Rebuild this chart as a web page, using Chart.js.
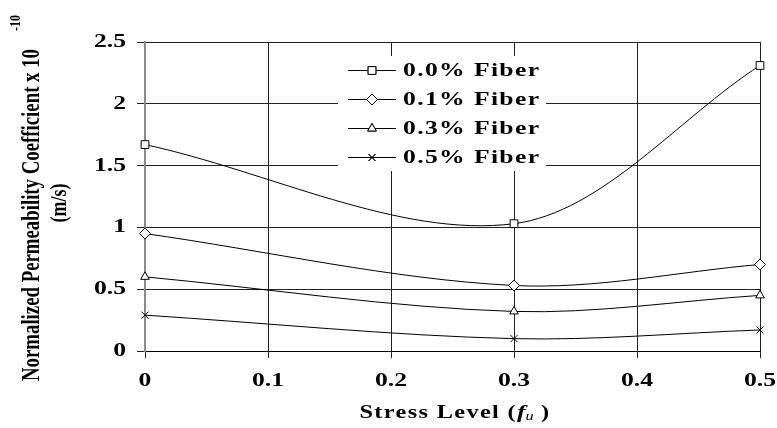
<!DOCTYPE html>
<html><head><meta charset="utf-8">
<script src="https://cdn.jsdelivr.net/npm/chart.js@4/dist/chart.umd.min.js"></script>
<style>html,body{margin:0;padding:0;background:#fff}#wrap{width:777px;height:428px}</style>
</head><body><div id="wrap"><canvas id="c" width="777" height="428"></canvas></div>
<script>
const stressLevels = [0, 0.3, 0.5];
const fiber00 = [1.67, 1.03, 2.31];
const fiber01 = [0.95, 0.53, 0.70];
const fiber03 = [0.60, 0.32, 0.45];
const fiber05 = [0.29, 0.10, 0.17];
const seriesLabels = ['0.0% Fiber', '0.1% Fiber', '0.3% Fiber', '0.5% Fiber'];
const xTickValues = [0, 0.1, 0.2, 0.3, 0.4, 0.5];
const xTickLabels = ['0', '0.1', '0.2', '0.3', '0.4', '0.5'];
const yTickValues = [0, 0.5, 1, 1.5, 2, 2.5];
const yTickLabels = ['0', '0.5', '1', '1.5', '2', '2.5'];

const SERIF = '"Liberation Serif", "Times New Roman", serif';
const SX = 1.35;
const styles = ['rect', 'rectRot', 'triangle', 'crossRot'];
const radii = [5.5, 5.5, 5, 5];
const seriesValues = [fiber00, fiber01, fiber03, fiber05];

function sText(ctx, str, x, y, font, align, sx, spacing) {
  ctx.save();
  ctx.font = font;
  ctx.letterSpacing = (spacing || 0) + 'px';
  ctx.textBaseline = 'middle';
  ctx.textAlign = 'left';
  const w = ctx.measureText(str).width * sx;
  let left = x;
  if (align === 'center') left = x - w / 2;
  else if (align === 'right') left = x - w;
  ctx.translate(left, y);
  ctx.scale(sx, 1);
  ctx.fillStyle = '#000';
  ctx.fillText(str, 0, 0);
  ctx.restore();
  return w;
}

const textPlugin = {
  id: 'texts',
  afterDraw(chart) {
    const ctx = chart.ctx;
    const xs = chart.scales.x, ys = chart.scales.y;
    const tickFont = 'bold 19px ' + SERIF;
    xTickValues.forEach((v, i) => {
      sText(ctx, xTickLabels[i], xs.getPixelForValue(v), 381, tickFont, 'center', SX, 0);
    });
    yTickValues.forEach((v, i) => {
      sText(ctx, yTickLabels[i], 126, ys.getPixelForValue(v), tickFont, 'right', SX, 0);
    });
    // x title
    ctx.save();
    const parts = [
      ['Stress Level (', 'bold 18px ' + SERIF, 0, 1],
      ['f', 'italic bold 19px ' + SERIF, 0, 0],
      ['u', 'italic 12px ' + SERIF, 4, 0],
      [' )', 'bold 18px ' + SERIF, 0, 1]
    ];
    let total = 0;
    parts.forEach(p => { ctx.font = p[1]; ctx.letterSpacing = p[3] + 'px'; total += ctx.measureText(p[0]).width * SX; });
    let cx = 455 - total / 2;
    parts.forEach(p => { cx += sText(ctx, p[0], cx, 413 + p[2], p[1], 'left', SX, p[3]); });
    ctx.restore();
    // y title
    ctx.save();
    ctx.fillStyle = '#000';
    ctx.letterSpacing = '0px';
    ctx.textBaseline = 'alphabetic';
    ctx.textAlign = 'left';
    ctx.translate(39, 381);
    ctx.rotate(-Math.PI / 2);
    ctx.scale(1, 1.3);
    ctx.font = 'bold 19px ' + SERIF;
    const t1 = 'Normalized Permeability Coefficient x 10';
    const w1 = Math.min(ctx.measureText(t1).width, 332);
    ctx.fillText(t1, 0, 0, 332);
    ctx.font = 'bold 12px ' + SERIF;
    ctx.fillText('-10', w1 + 18, -15);
    ctx.font = 'bold 18px ' + SERIF;
    ctx.textAlign = 'center';
    ctx.fillText('(m/s)', 178, 21);
    ctx.restore();
    // legend
    ctx.save();
    ctx.fillStyle = '#fff';
    ctx.fillRect(338, 56, 208, 115);
    const rowsY = [70, 99, 128, 157];
    chart.data.datasets.forEach((ds, i) => {
      const y = rowsY[i];
      ctx.strokeStyle = '#000';
      ctx.lineWidth = 1;
      ctx.beginPath();
      ctx.moveTo(348, y + 0.5);
      ctx.lineTo(396, y + 0.5);
      ctx.stroke();
      ctx.fillStyle = '#fff';
      Chart.helpers.drawPoint(ctx, { pointStyle: styles[i], radius: radii[i], borderWidth: 1, rotation: 0 }, 372, y + 0.5);
      ctx.fill();
      ctx.stroke();
      sText(ctx, ds.label, 403, y + 1, 'bold 19px ' + SERIF, 'left', SX, 1);
    });
    ctx.restore();
  }
};

const datasets = seriesValues.map((vals, i) => ({
  label: seriesLabels[i],
  data: stressLevels.map((x, j) => ({ x: x, y: vals[j] })),
  borderColor: '#000',
  borderWidth: 1,
  backgroundColor: '#fff',
  pointBackgroundColor: '#fff',
  pointBorderColor: '#000',
  pointBorderWidth: 1,
  pointStyle: styles[i],
  pointRadius: radii[i],
  tension: 0.33,
  fill: false,
  clip: false
}));

new Chart(document.getElementById('c'), {
  type: 'line',
  data: { datasets: datasets },
  options: {
    responsive: false,
    animation: false,
    layout: { padding: { top: 42, right: 17, left: 0, bottom: 0 } },
    plugins: { legend: { display: false }, tooltip: { enabled: false } },
    scales: {
      x: {
        type: 'linear', min: 0, max: 0.5,
        ticks: { stepSize: 0.1, display: false },
        grid: { color: '#222', lineWidth: 1, tickLength: 7, drawTicks: true },
        border: { color: '#000', width: 1 },
        afterFit(s) { s.height = 77; }
      },
      y: {
        min: 0, max: 2.5,
        ticks: { stepSize: 0.5, display: false },
        grid: { color: '#222', lineWidth: 1, tickLength: 8, drawTicks: true },
        border: { color: '#8a8a8a', width: 2 },
        afterFit(s) { s.width = 145; }
      }
    }
  },
  plugins: [textPlugin]
});
</script>
</body></html>
